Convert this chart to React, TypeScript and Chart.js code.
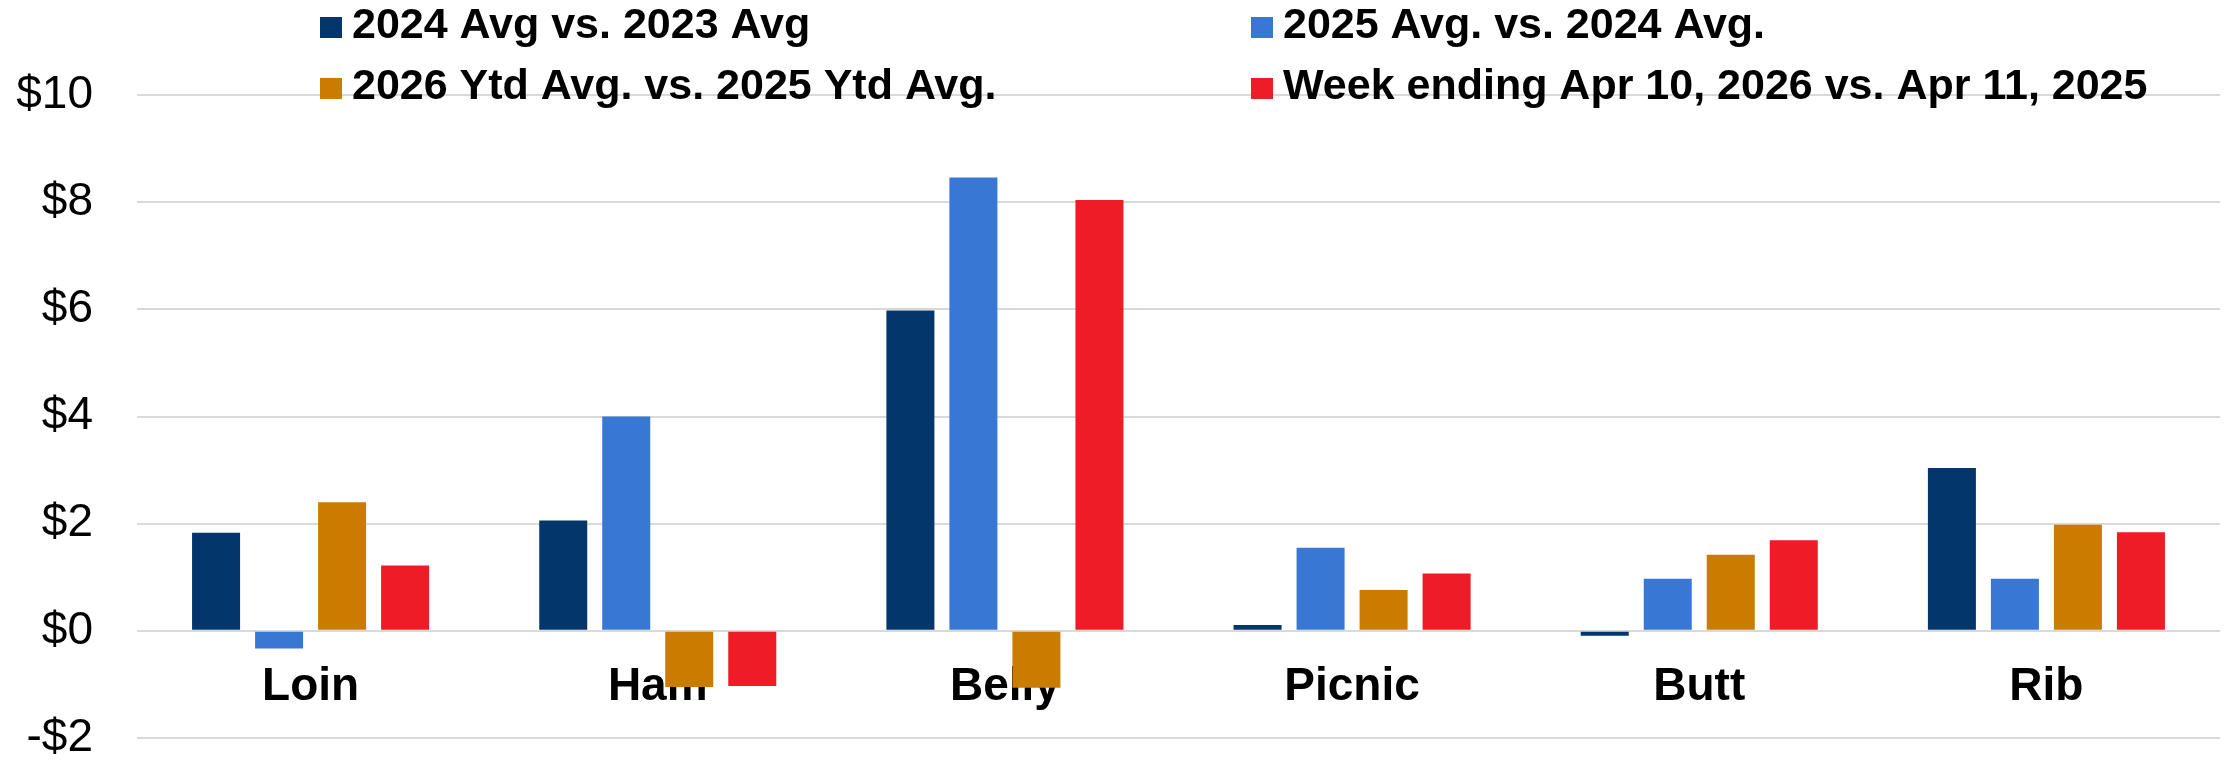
import React, { useEffect, useRef } from "react";
import { Chart, registerables } from "chart.js";

Chart.register(...registerables);

const categories = ["Loin", "Ham", "Belly", "Picnic", "Butt", "Rib"];
const seriesLabels = [
  "2024 Avg vs. 2023 Avg",
  "2025 Avg. vs. 2024 Avg.",
  "2026 Ytd Avg. vs. 2025 Ytd Avg.",
  "Week ending Apr 10, 2026 vs. Apr 11, 2025",
];
const avg2024vs2023 = [1.83, 2.06, 5.98, 0.11, -0.09, 3.04];
const avg2025vs2024 = [-0.33, 4.0, 8.46, 1.55, 0.97, 0.97];
const ytd2026vs2025 = [2.4, -1.05, -1.06, 0.76, 1.42, 1.98];
const weekApr10vsApr11 = [1.22, -1.03, 8.04, 1.07, 1.69, 1.84];
const seriesColors = ["#03376B", "#3878D4", "#CA7C00", "#ED1C26"];
const yMin = -2;
const yMax = 10;
const yStep = 2;

const FONT = "'Liberation Sans', Arial, Helvetica, sans-serif";

const gridLegend = {
  id: "gridLegend",
  afterDraw(chart: any) {
    const ctx = chart.ctx;
    const cols = [320, 1251];
    const rows = [17, 78];
    chart.data.datasets.forEach((ds: any, i: number) => {
      const x = cols[i % 2];
      const y = rows[Math.floor(i / 2)];
      ctx.save();
      ctx.fillStyle = ds.backgroundColor;
      ctx.fillRect(x, y, 22, 21);
      ctx.fillStyle = "#000";
      ctx.font = `bold 43px ${FONT}`;
      ctx.textBaseline = "middle";
      ctx.textAlign = "left";
      ctx.fillText(ds.label, x + 32, y + 9);
      ctx.restore();
    });
  },
};

export default function App() {
  const ref = useRef<HTMLCanvasElement | null>(null);

  useEffect(() => {
    document.body.style.margin = "0";
    document.body.style.overflow = "hidden";
    const canvas = ref.current;
    if (!canvas) return;
    const seriesData = [avg2024vs2023, avg2025vs2024, ytd2026vs2025, weekApr10vsApr11];
    const chart = new Chart(canvas, {
      type: "bar",
      data: {
        labels: categories,
        datasets: seriesData.map((d, i) => ({
          label: seriesLabels[i],
          data: d,
          backgroundColor: seriesColors[i],
          borderWidth: 0,
          categoryPercentage: 0.726,
          barPercentage: 0.762,
        })),
      },
      options: {
        responsive: false,
        animation: false,
        devicePixelRatio: 1,
        layout: { padding: { top: 95, right: 9, bottom: 22, left: 0 } },
        plugins: {
          legend: { display: false },
          tooltip: { enabled: false },
        },
        scales: {
          x: {
            position: { y: 0 } as any,
            z: 1,
            grid: { display: false, drawTicks: false },
            border: { display: false },
            ticks: {
              color: "#000",
              padding: 29,
              maxRotation: 0,
              autoSkip: false,
              font: { family: FONT, size: 46, weight: "bold", lineHeight: 1.2 },
            },
          },
          y: {
            min: yMin,
            max: yMax,
            grid: {
              color: "#D9D9D9",
              lineWidth: 2,
              drawTicks: true,
              tickLength: 44,
              tickColor: "rgba(0,0,0,0)",
            },
            border: { display: false },
            ticks: {
              stepSize: yStep,
              color: "#000",
              padding: 0,
              font: { family: FONT, size: 46, lineHeight: 0.9 },
              callback: (v: any) => (Number(v) < 0 ? "-$" + Math.abs(Number(v)) : "$" + v),
            },
            afterFit: (scale: any) => {
              scale.width = 137;
            },
          },
        },
      },
      plugins: [gridLegend],
    });
    return () => chart.destroy();
  }, []);

  return (
    <div style={{ width: 2229, height: 760 }}>
      <canvas ref={ref} width={2229} height={760} style={{ display: "block" }} />
    </div>
  );
}
